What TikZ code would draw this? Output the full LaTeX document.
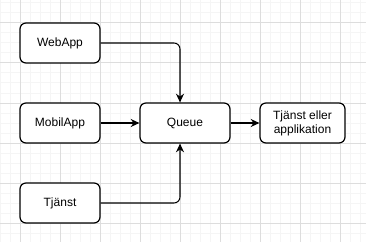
\documentclass[tikz,border=0pt]{standalone}
\usepackage{fontspec}
\setmainfont{Liberation Sans}
\usetikzlibrary{arrows.meta,calc}

\definecolor{gridminor}{HTML}{F5F5F5}
\definecolor{gridmajor}{HTML}{DDDDDD}

\tikzset{
  box/.style={draw=black, line width=0.9pt, rounded corners=4.5pt, fill=white,
    minimum width=60pt, minimum height=30pt, inner sep=1pt, align=center,
    font=\fontsize{9pt}{10.5pt}\selectfont},
  link/.style={line width=0.8pt, rounded corners=4.5pt,
    -{Stealth[length=6.5pt,width=6pt]}},
}

\begin{document}
\begin{tikzpicture}[x=0.75pt,y=-0.75pt]
  \useasboundingbox (0,0) rectangle (366,242);
  \fill[white] (0,0) rectangle (366,242);

  % background grid: fine lines every 10 units, stronger every 40
  \foreach \gx in {0,10,...,360} \draw[gridminor, line width=0.75pt] (\gx,0) -- (\gx,242);
  \foreach \gy in {3,13,...,243} \draw[gridminor, line width=0.75pt] (0,\gy) -- (366,\gy);
  \foreach \gx in {20,60,...,340} \draw[gridmajor, line width=0.75pt] (\gx,0) -- (\gx,242);
  \foreach \gy in {23,63,...,223} \draw[gridmajor, line width=0.75pt] (0,\gy) -- (366,\gy);

  % sources
  \node[box] (web) at (60,43) {WebApp};
  \node[box] (mob) at (60,123) {MobilApp};
  \node[box] (tj)  at (60,203) {Tjänst};

  % queue and consumer
  \node[box, minimum width=67.5pt] (queue) at (185,123) {Queue};
  \node[box, minimum width=63.75pt] (svc) at (302.5,123) {Tjänst eller\\applikation};

  \coordinate (qtop) at ($(queue.north)+(-5,0)$);
  \coordinate (qbot) at ($(queue.south)+(-5,0)$);

  \draw[link] (web.east) -| (qtop);
  \draw[link] (mob.east) -- (queue.west);
  \draw[link] (tj.east) -| (qbot);
  \draw[link] (queue.east) -- (svc.west);
\end{tikzpicture}
\end{document}
